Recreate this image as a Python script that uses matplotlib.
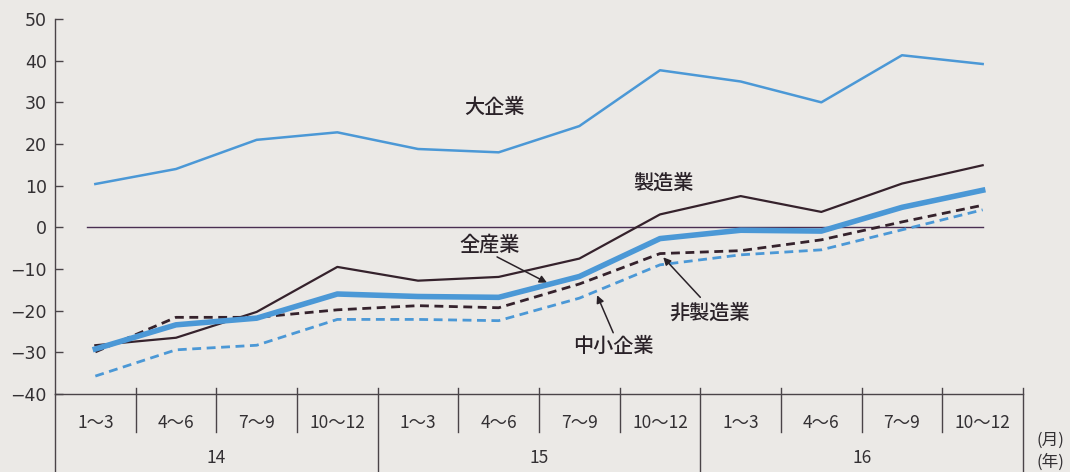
import matplotlib
matplotlib.use("Agg")
import matplotlib.pyplot as plt
from matplotlib.transforms import blended_transform_factory

plt.rcParams['font.family'] = ['Noto Sans CJK JP', 'DejaVu Sans']

months = ["1～3", "4～6", "7～9", "10～12"] * 3
years = ["14", "15", "16"]

large = [10.4, 14.0, 21.0, 22.8, 18.8, 18.0, 24.3, 37.7, 35.0, 30.0, 41.3, 39.2]
manuf = [-28.3, -26.5, -20.3, -9.5, -12.8, -11.9, -7.5, 3.1, 7.5, 3.7, 10.5, 14.9]
allind = [-29.2, -23.4, -21.8, -16.0, -16.6, -16.8, -11.8, -2.7, -0.7, -0.9, 4.8, 8.9]
nonmanuf = [-29.9, -21.6, -21.6, -19.8, -18.8, -19.3, -13.6, -6.3, -5.6, -3.0, 1.3, 5.3]
small = [-35.7, -29.4, -28.3, -22.1, -22.1, -22.4, -17.0, -9.0, -6.6, -5.4, -0.6, 4.2]

bg = '#ebe9e6'
blue = '#4b98d6'
dark = '#35222c'
textc = '#333033'
axc = '#4a4448'

fig = plt.figure(figsize=(10.70, 4.72), dpi=100, facecolor=bg)
ax = fig.add_axes([55/1070, 1-394/472, 968/1070, 375/472])
ax.set_facecolor(bg)

x = list(range(len(months)))
ax.set_xlim(-0.5, 11.5)
ax.set_ylim(-40, 50)

ax.plot([-0.1, 11], [0, 0], color='#4a2f52', lw=1.0, zorder=1)
ax.plot(x, large, color=blue, lw=1.8, zorder=3)
ax.plot(x, manuf, color=dark, lw=1.6, zorder=3)
ax.plot(x, small, color=blue, lw=2.0, dashes=(3.2, 2.0), zorder=3)
ax.plot(x, nonmanuf, color=dark, lw=2.0, dashes=(3.2, 2.0), zorder=3)
ax.plot(x, allind, color=blue, lw=4.0, zorder=4)

for s in ['top', 'right']:
    ax.spines[s].set_visible(False)
for s in ['left', 'bottom']:
    ax.spines[s].set_color(axc)
    ax.spines[s].set_linewidth(1.0)

ax.set_yticks(range(-40, 51, 10))
ax.tick_params(axis='y', direction='in', length=6, width=1.0, color=axc,
               labelsize=12.5, labelcolor=textc, pad=6)
for lab in ax.get_yticklabels():
    lab.set_family(['DejaVu Sans'])
ax.set_xticks([])

tr = blended_transform_factory(ax.transData, ax.transAxes)
ax.plot([-0.5, -0.5], [0, -0.208], transform=tr, color=axc, lw=1.0, clip_on=False)
for i in range(11):
    b = i + 0.5
    low = -0.208 if i in (3, 7) else -0.101
    ax.plot([b, b], [0.016, low], transform=tr, color=axc, lw=1.0, clip_on=False)
ax.plot([11.5, 11.5], [0.016, -0.208], transform=tr, color=axc, lw=1.0, clip_on=False)

for i, m in enumerate(months):
    ax.text(i, -0.077, m, transform=tr, ha='center', va='center', fontsize=12.5, color=textc)
for j, yname in enumerate(years):
    ax.text(4*j + 1.5, -0.171, yname, transform=tr, ha='center', va='center', fontsize=12.5, color=textc)

ax.text(1.028, -0.123, "(月)", transform=ax.transAxes, ha='center', va='center', fontsize=12, color=textc)
ax.text(1.028, -0.181, "(年)", transform=ax.transAxes, ha='center', va='center', fontsize=12, color=textc)

lab_kw = dict(fontsize=14.5, color='#2a2228', ha='center', va='center', fontweight='medium')
ax.text(4.95, 28.9, "大企業", **lab_kw)
ax.text(7.04, 10.6, "製造業", **lab_kw)
ax.text(4.89, -4.2, "全産業", **lab_kw)
ax.text(6.42, -28.7, "中小企業", **lab_kw)
ax.text(7.62, -20.5, "非製造業", **lab_kw)

arrow = dict(arrowstyle='-|>', color='#2a2228', lw=1.1, mutation_scale=11, shrinkA=0, shrinkB=0)
ax.annotate("", xy=(5.6, -13.3), xytext=(4.98, -7.1), arrowprops=arrow)
ax.annotate("", xy=(6.22, -16.3), xytext=(6.42, -25.3), arrowprops=arrow)
ax.annotate("", xy=(7.04, -7.2), xytext=(7.5, -16.8), arrowprops=arrow)

fig.savefig("out.png", dpi=100, facecolor=bg)
